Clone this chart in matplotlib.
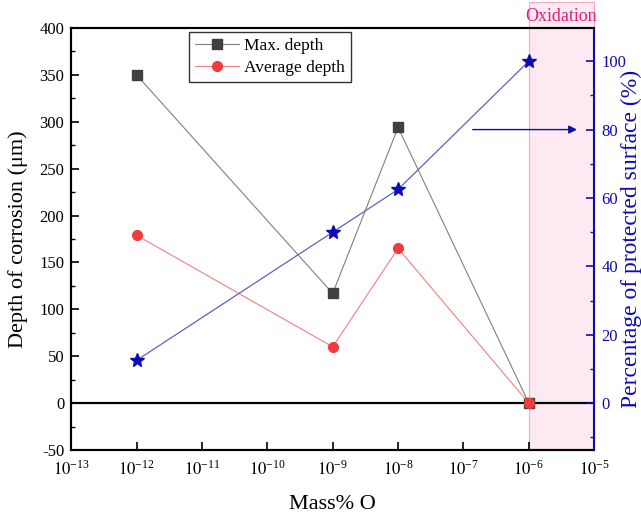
import numpy as np
import matplotlib.pyplot as plt
from matplotlib.patches import Rectangle
from matplotlib.ticker import MultipleLocator, FixedLocator

plt.rcParams["font.family"] = ["Liberation Serif", "DejaVu Serif"]
plt.rcParams["mathtext.fontset"] = "stix"
plt.rcParams["axes.unicode_minus"] = False

mass_o = [1e-12, 1e-9, 1e-8, 1e-6]
max_depth = [350, 117, 294, 0]
avg_depth = [179, 60, 165, 0]
protected = [12.5, 50, 62.5, 100]
x_exponents = list(range(-13, -4))

BLUE = "#0c0cb4"
PINK = "#e0207a"


def main():
    fig = plt.figure(figsize=(6.41, 5.14), dpi=100)
    ax = fig.add_axes([0.111, 0.1245, 0.816, 0.821])
    ax2 = ax.twinx()

    # oxidation region, drawn slightly above the frame like the original
    ax.add_patch(Rectangle((1e-6, 0), 1e-5 - 1e-6, 1.062,
                           transform=ax.get_xaxis_transform(),
                           facecolor="#fde9f1", edgecolor="#f7a8c8",
                           linewidth=0.8, clip_on=False, zorder=0))
    ax.text(np.sqrt(1e-6 * 1e-5), 1.006, "Oxidation", color=PINK, fontsize=13,
            ha="center", va="bottom", transform=ax.get_xaxis_transform())

    ax.axhline(0, color="black", linewidth=1.6, zorder=1)

    ax.plot(mass_o, max_depth, color="#808080", linewidth=0.8, marker="s",
            markersize=7, markerfacecolor="#404040", markeredgecolor="#404040",
            label="Max. depth", zorder=3)
    ax.plot(mass_o, avg_depth, color="#f08080", linewidth=0.8, marker="o",
            markersize=7, markerfacecolor="#f03c3c", markeredgecolor="#f03c3c",
            label="Average depth", zorder=3)
    ax2.plot(mass_o, protected, color="#6060c8", linewidth=0.9, marker="*",
             markersize=10, markerfacecolor=BLUE, markeredgecolor=BLUE, zorder=3)

    ax2.annotate("", xy=(10 ** -5.22, 80), xytext=(10 ** -6.9, 80),
                 arrowprops=dict(arrowstyle="-|>", color=BLUE, lw=1.0,
                                 mutation_scale=12))

    ax.set_xscale("log")
    ax.set_xlim(1e-13, 1e-5)
    ax.xaxis.set_major_locator(FixedLocator([10.0 ** p for p in x_exponents]))
    ax.xaxis.set_minor_locator(FixedLocator([]))
    ax.set_xticklabels([r"$10^{\mathregular{%d}}$" % p for p in x_exponents])
    ax.set_ylim(-50, 400)
    ax.yaxis.set_major_locator(MultipleLocator(50))
    ax.yaxis.set_minor_locator(MultipleLocator(25))
    ax2.set_ylim(-13.7, 109.7)
    ax2.set_yticks([0, 20, 40, 60, 80, 100])
    ax2.yaxis.set_minor_locator(MultipleLocator(10))

    ax.tick_params(axis="x", which="major", direction="in", length=6,
                   width=1.2, labelsize=12, pad=7, top=False)
    ax.tick_params(axis="y", which="major", direction="in", length=6,
                   width=1.2, labelsize=12, pad=5)
    ax.tick_params(axis="y", which="minor", direction="in", length=3, width=1.0)
    ax2.tick_params(axis="y", which="major", direction="in", length=6,
                    width=1.2, colors=BLUE, labelsize=12, pad=5)
    ax2.tick_params(axis="y", which="minor", direction="in", length=3,
                    width=1.0, colors=BLUE)

    for side in ["left", "bottom", "top"]:
        ax.spines[side].set_linewidth(1.5)
        ax2.spines[side].set_linewidth(1.5)
    ax2.spines["right"].set_color(BLUE)
    ax2.spines["right"].set_linewidth(1.5)
    ax.spines["right"].set_visible(False)

    ax.set_xlabel("Mass% O", fontsize=16, labelpad=12)
    fig.text(18 / 641, 1 - 239 / 514, "Depth of corrosion (μm)", fontsize=16,
             rotation=90, ha="center", va="center")
    fig.text(631 / 641, 1 - 239 / 514, "Percentage of protected surface (%)",
             fontsize=17, color=BLUE, rotation=90, ha="center", va="center")

    leg = ax.legend(loc="upper left", bbox_to_anchor=(0.226, 0.99),
                    borderaxespad=0, fontsize=12.5, frameon=True,
                    fancybox=False, edgecolor="black", handlelength=2.5,
                    borderpad=0.35, labelspacing=0.3, handletextpad=0.3)
    leg.get_frame().set_linewidth(1.0)

    fig.savefig("out.png", dpi=100)
    plt.close(fig)


if __name__ == "__main__":
    main()
